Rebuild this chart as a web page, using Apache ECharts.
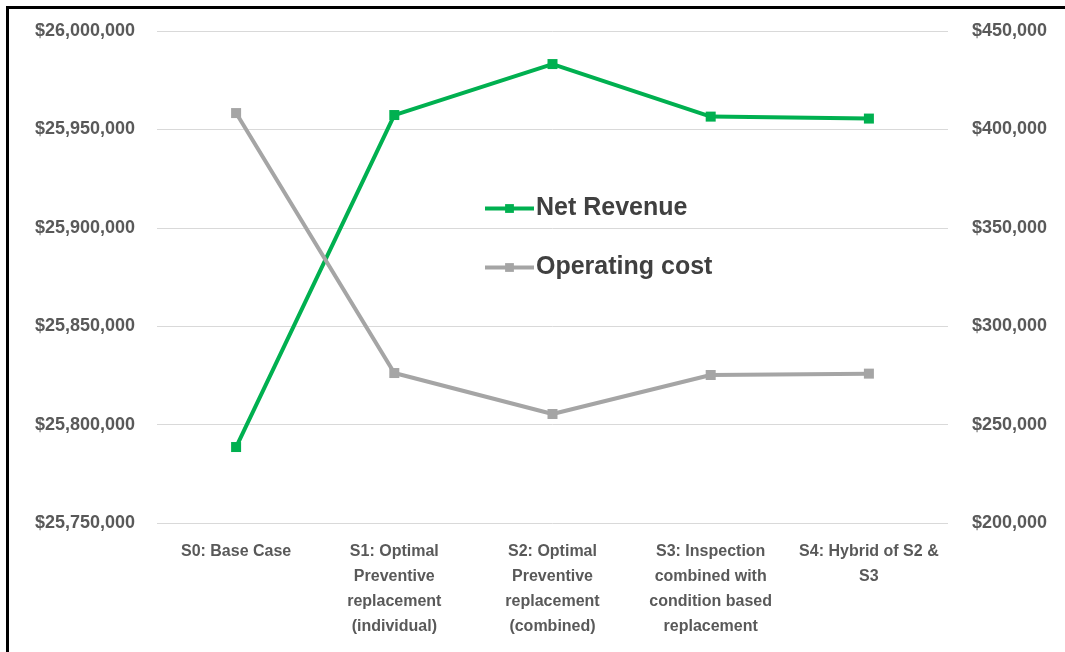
<!DOCTYPE html>
<html>
<head>
<meta charset="utf-8">
<script src="https://cdn.jsdelivr.net/npm/echarts@6/dist/echarts.min.js"></script>
<style>
html,body{margin:0;padding:0;background:#fff;}
#c{width:1065px;height:652px;}
</style>
</head>
<body>
<div id="c"></div>
<script>
const categories = [
  'S0: Base Case',
  'S1: Optimal\nPreventive\nreplacement\n(individual)',
  'S2: Optimal\nPreventive\nreplacement\n(combined)',
  'S3: Inspection\ncombined with\ncondition based\nreplacement',
  'S4: Hybrid of S2 &\nS3'
];
const netRevenue = [25788600, 25957300, 25983200, 25956500, 25955500];
const operatingCost = [408300, 276200, 255400, 275200, 275900];

const FONT = '"Liberation Sans", Arial, sans-serif';
const fmt = v => '$' + v.toLocaleString('en-US');

const chart = echarts.init(document.getElementById('c'));
chart.setOption({
  animation: false,
  backgroundColor: '#fff',
  textStyle: { fontFamily: FONT },
  grid: { left: 157, right: 117, top: 31, bottom: 129, containLabel: false },
  graphic: [{
    type: 'rect', left: 5, top: 5, silent: true,
    shape: { width: 1200, height: 800 },
    style: { fill: 'none', stroke: '#000', lineWidth: 3 }
  }],
  legend: {
    orient: 'vertical',
    left: 478, top: 191,
    itemWidth: 49, itemHeight: 11, itemGap: 34,
    lineStyle: { width: 4 },
    textStyle: { fontFamily: FONT, fontSize: 25, fontWeight: 'bold', color: '#404040', padding: [0, 0, 0, -3] },
    data: ['Net Revenue', 'Operating cost']
  },
  xAxis: {
    type: 'category',
    data: categories,
    boundaryGap: true,
    axisLine: { show: false },
    axisTick: { show: false },
    axisLabel: { fontFamily: FONT, fontSize: 16, fontWeight: 'bold', color: '#595959', lineHeight: 25, margin: 16, interval: 0 }
  },
  yAxis: [{
    type: 'value', min: 25750000, max: 26000000, interval: 50000,
    axisLine: { show: false }, axisTick: { show: false },
    splitLine: { lineStyle: { color: '#D9D9D9', width: 1 } },
    axisLabel: { fontFamily: FONT, fontSize: 18, fontWeight: 'bold', color: '#595959', margin: 22, formatter: fmt }
  }, {
    type: 'value', min: 200000, max: 450000, interval: 50000,
    axisLine: { show: false }, axisTick: { show: false },
    splitLine: { show: false },
    axisLabel: { fontFamily: FONT, fontSize: 18, fontWeight: 'bold', color: '#595959', margin: 24, formatter: fmt }
  }],
  series: [{
    name: 'Net Revenue', type: 'line', yAxisIndex: 0,
    data: netRevenue,
    symbol: 'rect', symbolSize: 10,
    lineStyle: { color: '#00B050', width: 4 },
    itemStyle: { color: '#00B050' }
  }, {
    name: 'Operating cost', type: 'line', yAxisIndex: 1,
    data: operatingCost,
    symbol: 'rect', symbolSize: 10,
    lineStyle: { color: '#A5A5A5', width: 4 },
    itemStyle: { color: '#A5A5A5' }
  }]
});
</script>
</body>
</html>
